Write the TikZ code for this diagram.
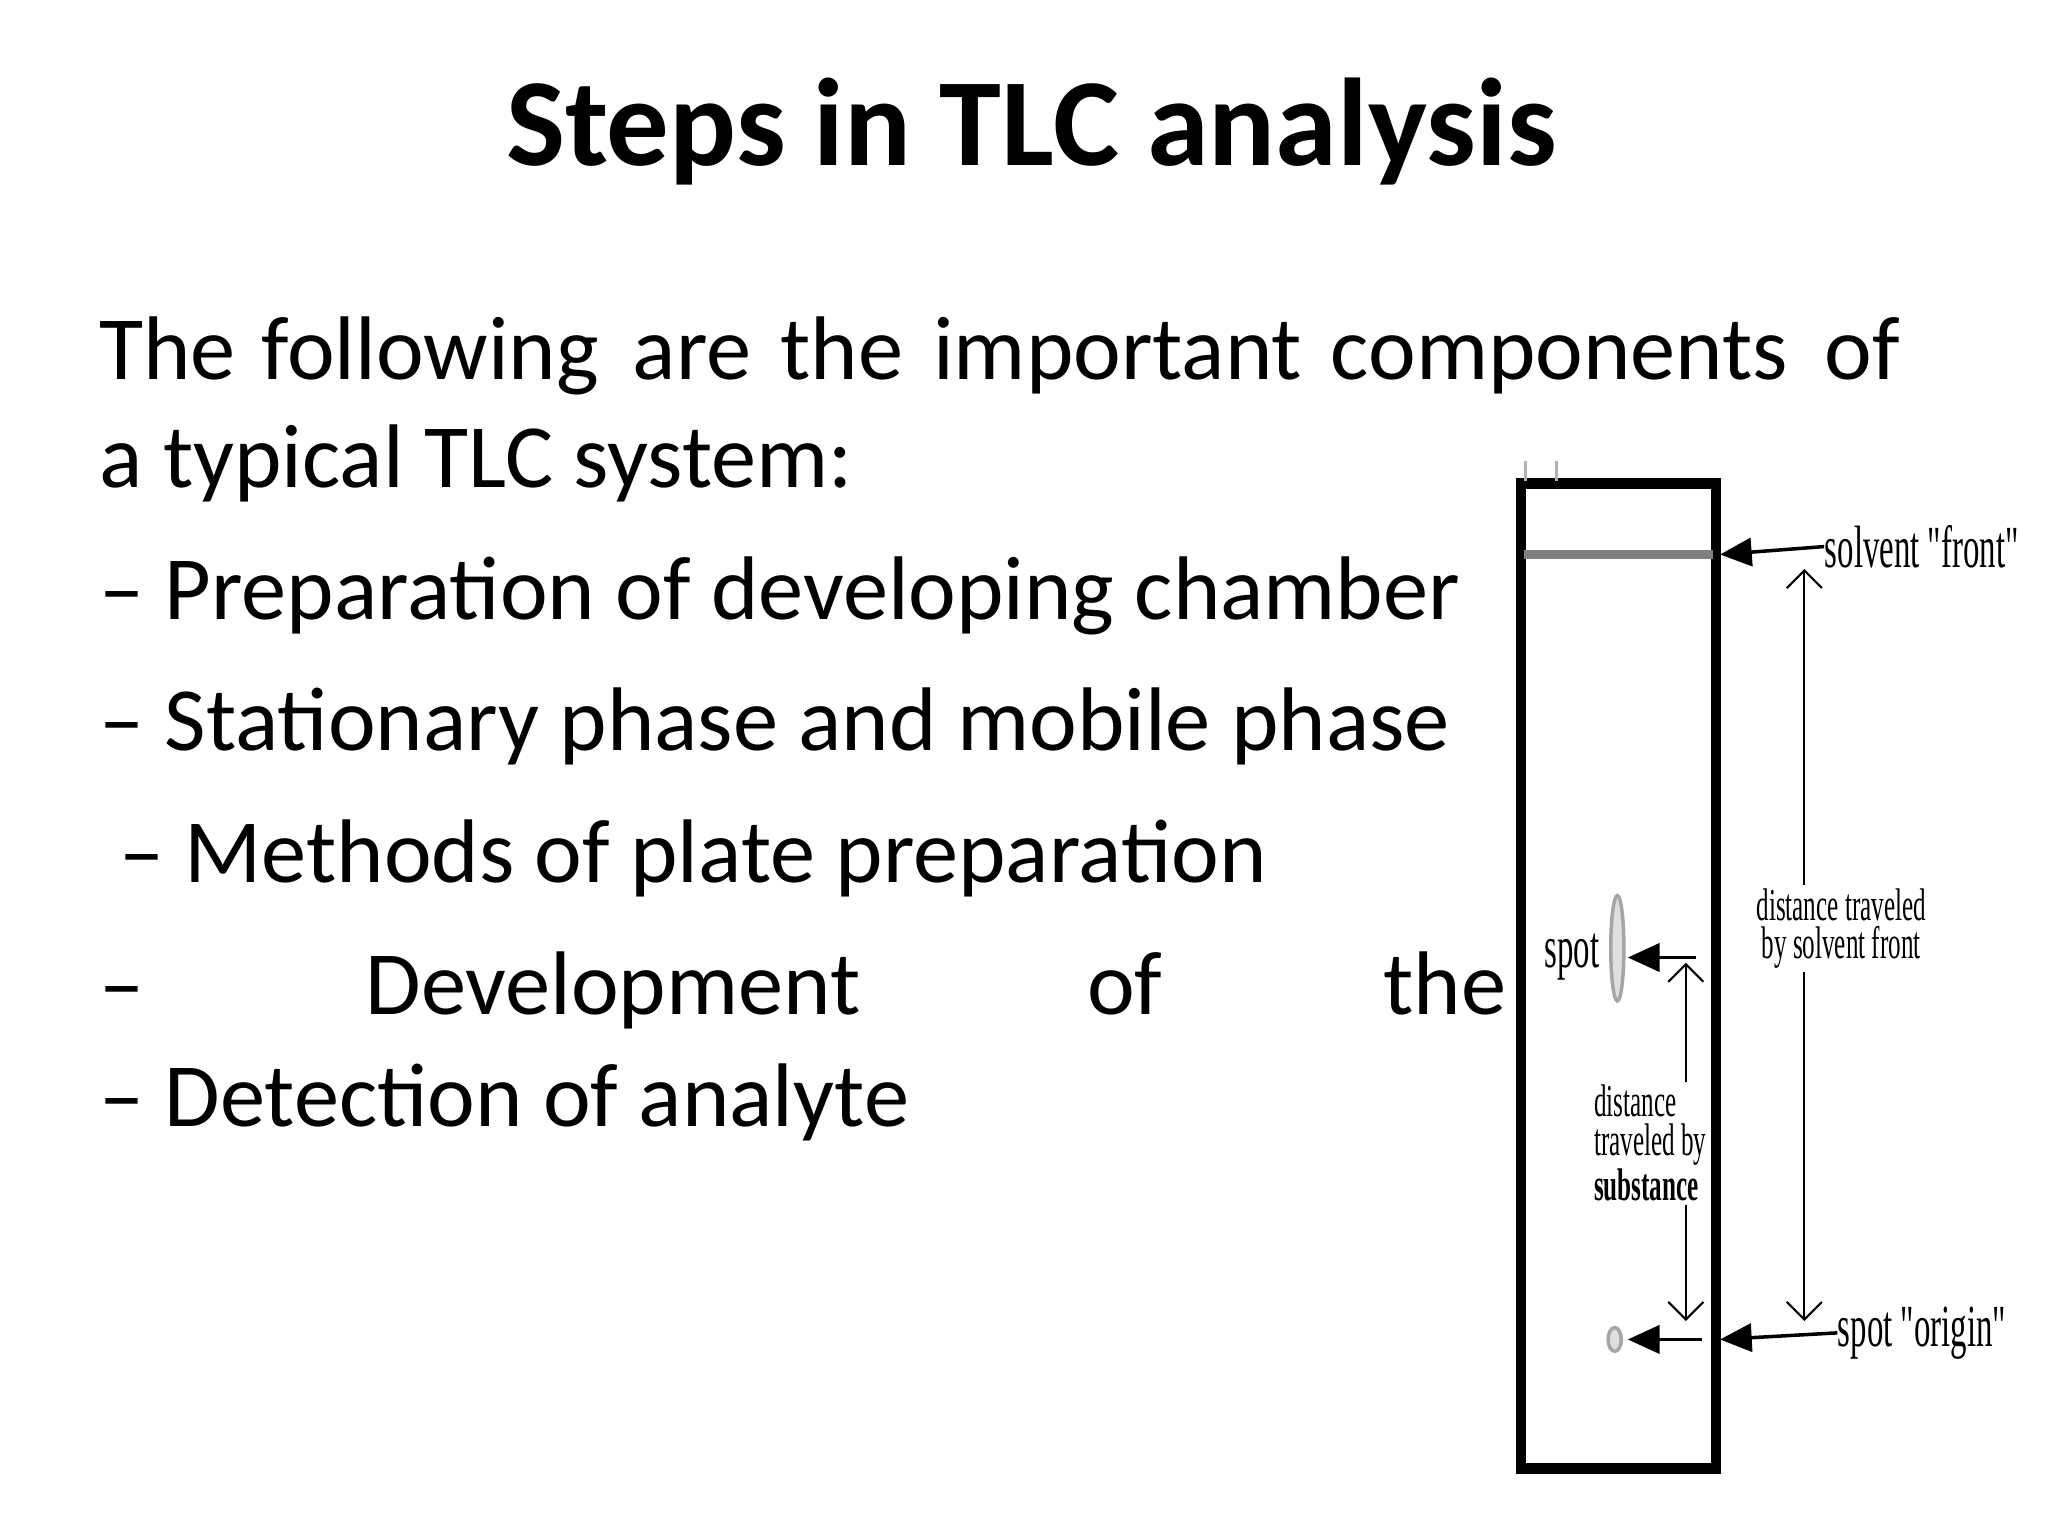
\documentclass[tikz,border=0pt]{standalone}
\usepackage{fontspec}
\setmainfont{Carlito}
\newfontfamily\serif{Liberation Serif}
\usetikzlibrary{arrows.meta}
\tikzset{
  body/.style={anchor=base west,inner sep=0pt,font=\fontsize{25.7}{30}\selectfont},
  lab/.style={inner sep=1pt,font=\serif\fontsize{11}{11}\selectfont},
  big/.style={-{Triangle[length=9pt,width=8pt]},line width=1pt},
  dim/.style={{Straight Barb[length=5pt]}-{Straight Barb[length=5pt]},line width=0.6pt}
}
\newcommand{\cond}[1]{\scalebox{0.55}[1]{#1}}
\begin{document}
\begin{tikzpicture}[x=0.01317cm,y=-0.01317cm]
\useasboundingbox (0,0) rectangle (1555,1166);
\node (title) at (783,100) {\fontsize{35.5}{40}\selectfont\bfseries Steps in TLC analysis};
\node[body] (l1) at (75,288) {The};
\node[body] at (198,288) {following};
\node[body] at (480,288) {are};
\node[body] at (592,288) {the};
\node[body] at (708,288) {important};
\node[body] at (1010,288) {components};
\node[body] at (1385,288) {of};
\node[body] (l2) at (75,370) {a typical TLC system:};
\node[body] (l3) at (75,470) {– Preparation of developing chamber};
\node[body] (l4) at (75,570) {– Stationary phase and mobile phase};
\node[body] (l5) at (90,670) {– Methods of plate preparation};
\node[body] (l6a) at (75,770) {–};
\node[body] (l6b) at (277,770) {Development};
\node[body] (l6c) at (825,770) {of};
\node[body] (l6d) at (1050,770) {the};
\node[body] (l7) at (75,855) {– Detection of analyte};
% plate
\draw[line width=3pt] (1155,367) rectangle (1303,1115);
\draw[gray,line width=2.5pt] (1157,421) -- (1301,421);
\draw[gray!60,line width=0.8pt] (1158,350) -- (1158,365) (1182,350) -- (1182,365);
% front
\coordinate (fa) at (1306,421);
\node[lab,anchor=west,inner sep=0pt] (front) at (1385,415) {\cond{\fontsize{17}{17}\selectfont solvent "front"}};
\draw[big] (front.west) -- (fa);
% origin
\coordinate (oa) at (1306,1017);
\node[lab,anchor=west,inner sep=0pt] (orig) at (1395,1012) {\cond{\fontsize{17}{17}\selectfont spot "origin"}};
\draw[big] (orig.west) -- (oa);
% spots
\draw[gray!70,fill=gray!25,line width=1pt] (1228,720) ellipse (5 and 40);
\draw[gray!70,fill=gray!25,line width=1pt] (1226,1017) ellipse (5 and 9);
\node[lab,anchor=east,inner sep=0pt] (spot) at (1215,727) {\cond{\fontsize{17}{17}\selectfont spot}};
\coordinate (s1) at (1288,727); \coordinate (s1t) at (1236,727);
\draw[big] (s1) -- (s1t);
\coordinate (s2) at (1292,1017); \coordinate (s2t) at (1236,1017);
\draw[big] (s2) -- (s2t);
% dimension arrows
\coordinate (d1) at (1370,432); \coordinate (d2) at (1370,1003);
\draw[dim] (d1) -- (d2);
\node[lab,fill=white,align=center] (dl1) at (1398,705) {\cond{\fontsize{13}{15}\selectfont distance traveled}\\ \cond{\fontsize{13}{15}\selectfont by solvent front}};
\coordinate (e1) at (1280,731); \coordinate (e2) at (1280,1003);
\draw[dim] (e1) -- (e2);
\node[lab,fill=white,align=left] (dl2) at (1253,868) {\cond{\fontsize{13}{17}\selectfont distance}\\ \cond{\fontsize{13}{17}\selectfont traveled by}\\ \cond{\fontsize{13}{17}\selectfont\bfseries substance}};
\end{tikzpicture}
\end{document}
